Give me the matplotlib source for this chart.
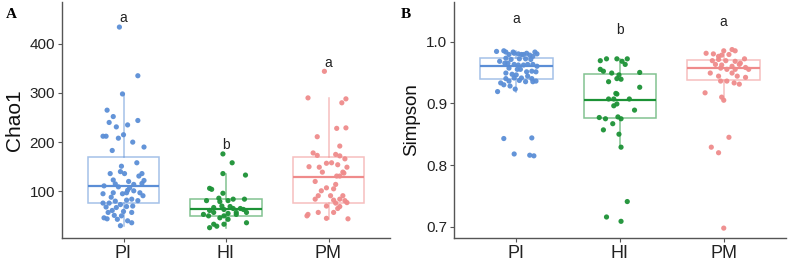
import matplotlib
matplotlib.use("Agg")
import matplotlib.pyplot as plt
import numpy as np

plt.rcParams['font.family'] = ['Liberation Sans', 'DejaVu Sans']

groups = ["PI", "HI", "PM"]
colors = ["#5b8ed6", "#1c9236", "#ef8b8b"]

# ---------- Panel A: Chao1 ----------
chao_pi = [434, 335, 298, 265, 252, 240, 244, 235, 231, 215, 212, 212, 208, 200, 190, 183,
           158, 151, 140, 136, 136, 131, 136, 122, 123, 115, 120, 109, 111, 114, 107, 116,
           102, 101, 95, 97, 95, 97, 97, 88, 91, 82, 84, 81, 76, 80, 68, 61, 73, 69, 70,
           57, 67, 59, 46, 44, 51, 50, 40, 36, 57, 30, 43, 76]
chao_pi_jit = [-0.04, 0.14, -0.01, -0.16, -0.10, -0.14, 0.14, 0.04, -0.07, 0.00, -0.17, -0.20,
               -0.05, 0.09, 0.20, -0.11, 0.13, -0.02, -0.03, -0.13, 0.01, 0.15, 0.18, 0.20,
               -0.10, -0.08, 0.05, -0.05, -0.19, 0.10, 0.06, 0.18, 0.04, 0.10, -0.20, -0.10,
               -0.01, 0.03, 0.16, -0.12, 0.19, 0.03, 0.08, 0.14, -0.20, -0.08, -0.17, -0.11,
               -0.03, 0.03, 0.09, -0.15, -0.07, 0.00, -0.19, -0.16, -0.09, -0.02, 0.04, 0.08,
               0.08, -0.03, -0.06, -0.14]
chao_hi = [176, 158, 136, 133, 106, 104, 96, 84, 84, 81, 86, 79, 81, 67, 70, 69, 61, 63, 65,
           65, 57, 63, 57, 55, 53, 50, 46, 50, 53, 36, 33, 29, 33, 26, 57, 43]
chao_hi_jit = [-0.03, 0.06, -0.03, 0.19, -0.16, -0.14, -0.03, 0.07, 0.18, -0.19, -0.07, -0.06,
               0.02, -0.12, -0.04, 0.04, -0.16, -0.02, 0.07, 0.14, 0.20, 0.17, -0.12, 0.02,
               -0.22, -0.17, -0.06, -0.02, 0.10, 0.20, -0.12, -0.09, -0.02, -0.16, 0.10, 0.02]
chao_pm = [344, 290, 288, 280, 228, 229, 211, 192, 178, 173, 175, 172, 166, 157, 158, 154, 150,
           149, 149, 139, 139, 131, 131, 137, 120, 114, 107, 105, 101, 91, 91, 84, 82, 84, 81,
           91, 76, 77, 70, 69, 65, 57, 57, 50, 53, 45, 44]
chao_pm_jit = [-0.04, -0.20, 0.17, 0.13, 0.08, 0.17, -0.11, 0.11, -0.15, -0.11, 0.07, 0.11, 0.16,
               -0.02, 0.03, 0.09, -0.19, -0.09, 0.18, 0.14, -0.06, 0.08, 0.11, 0.15, -0.13, 0.07,
               -0.02, 0.05, -0.07, 0.02, 0.14, -0.13, 0.05, 0.11, 0.16, -0.10, 0.07, 0.18, -0.02,
               0.11, 0.09, 0.05, -0.10, -0.21, -0.20, -0.02, 0.19]
# box statistics: lower whisker, Q1, median, Q3, upper whisker
chao_whislo = [30, 26, 44]
chao_q1 = [76, 49, 76]
chao_med = [110, 63, 129]
chao_q3 = [170, 84, 170]
chao_whishi = [298, 136, 290]
chao_letters = ["a", "b", "a"]
chao_letter_y = [452, 194, 360]

# ---------- Panel B: Simpson ----------
simp_pi = [0.984, 0.985, 0.983, 0.979, 0.983, 0.981, 0.980, 0.979, 0.979, 0.981, 0.978, 0.976,
           0.983, 0.980, 0.973, 0.971, 0.972, 0.972, 0.971, 0.968, 0.965, 0.965, 0.963, 0.962,
           0.962, 0.963, 0.963, 0.960, 0.957, 0.955, 0.955, 0.951, 0.952, 0.951, 0.949, 0.947,
           0.946, 0.941, 0.944, 0.940, 0.941, 0.940, 0.933, 0.936, 0.937, 0.935, 0.935, 0.936,
           0.930, 0.928, 0.923, 0.919, 0.843, 0.818, 0.844, 0.816, 0.815]
simp_pi_jit = [-0.19, -0.12, -0.10, -0.07, -0.03, -0.02, 0.02, 0.05, 0.07, 0.10, 0.13, 0.16,
               0.18, 0.20, -0.10, -0.05, 0.03, 0.09, 0.14, -0.16, -0.11, -0.08, -0.02, 0.02,
               0.07, 0.11, 0.16, 0.20, -0.07, 0.01, 0.04, 0.10, 0.15, 0.19, -0.10, -0.04, 0.00,
               0.05, 0.11, 0.15, -0.02, -0.10, -0.15, -0.07, 0.03, 0.09, 0.16, 0.19, -0.12,
               -0.06, -0.01, -0.18, -0.12, -0.02, 0.15, 0.13, 0.17]
simp_hi = [0.969, 0.972, 0.972, 0.968, 0.972, 0.963, 0.955, 0.952, 0.949, 0.950, 0.935, 0.940,
           0.939, 0.946, 0.926, 0.916, 0.915, 0.907, 0.907, 0.907, 0.896, 0.899, 0.889, 0.877,
           0.875, 0.878, 0.875, 0.857, 0.867, 0.850, 0.829, 0.741, 0.716, 0.709]
simp_hi_jit = [-0.19, -0.13, -0.03, 0.02, 0.07, 0.05, -0.19, -0.16, -0.08, 0.19, -0.11, -0.03,
               0.01, -0.01, 0.19, -0.04, -0.03, -0.11, -0.06, 0.09, -0.06, -0.03, 0.14, -0.20,
               -0.14, -0.02, 0.01, -0.16, -0.07, -0.01, 0.01, 0.07, -0.13, 0.01]
simp_pm = [0.981, 0.980, 0.985, 0.987, 0.985, 0.976, 0.978, 0.979, 0.972, 0.969, 0.971, 0.969,
           0.968, 0.965, 0.963, 0.962, 0.960, 0.963, 0.958, 0.955, 0.957, 0.955, 0.955, 0.949,
           0.949, 0.944, 0.944, 0.942, 0.936, 0.936, 0.933, 0.931, 0.917, 0.910, 0.905, 0.845,
           0.829, 0.820, 0.698]
simp_pm_jit = [-0.17, -0.10, 0.00, 0.08, 0.11, -0.05, -0.02, 0.05, 0.20, -0.11, -0.05, 0.02,
               0.11, 0.16, -0.08, -0.02, 0.08, 0.15, 0.21, 0.24, -0.03, 0.03, 0.11, -0.13,
               0.08, -0.05, 0.13, 0.21, -0.03, 0.03, 0.10, 0.15, -0.18, -0.02, 0.00, 0.05,
               -0.12, -0.05, 0.00]
simp_whislo = [0.919, 0.829, 0.905]
simp_q1 = [0.940, 0.876, 0.937]
simp_med = [0.961, 0.906, 0.957]
simp_q3 = [0.974, 0.948, 0.970]
simp_whishi = [0.985, 0.972, 0.987]
simp_letters = ["a", "b", "a"]
simp_letter_y = [1.036, 1.019, 1.032]

W, H = 796, 265
fig = plt.figure(figsize=(W / 100, H / 100), dpi=100)

def px_axes(l, r, t, b):
    return fig.add_axes([l / W, 1 - b / H, (r - l) / W, (b - t) / H])

axA = px_axes(62, 390, 2, 238)
axB = px_axes(454, 786, 2, 238)

def draw(ax, vals, jits, whislo, q1, med, q3, whishi, letters, letter_y, ylabel, ylabsize, ylim, yticks, yticklabels):
    for i in range(3):
        c = colors[i]
        stats = [dict(whislo=whislo[i], q1=q1[i], med=med[i], q3=q3[i], whishi=whishi[i], fliers=[])]
        ax.bxp(stats, positions=[i + 1], widths=0.7, showcaps=False, showfliers=False,
               patch_artist=True,
               boxprops=dict(facecolor="white", edgecolor=c, alpha=0.55, linewidth=1.1),
               whiskerprops=dict(color=c, alpha=0.55, linewidth=1.1),
               medianprops=dict(color=c, linewidth=1.6),
               zorder=1)
        x = np.array(jits[i]) + (i + 1)
        ax.scatter(x, vals[i], s=14, color=c, edgecolors="none", alpha=0.95, zorder=3)
        ax.text(i + 1, letter_y[i], letters[i], ha="center", va="center", fontsize=10,
                color="#222222")
    ax.set_xlim(0.4, 3.6)
    ax.set_ylim(*ylim)
    ax.set_xticks([1, 2, 3])
    ax.set_xticklabels(groups, fontsize=13, color="#222222")
    ax.set_yticks(yticks)
    ax.set_yticklabels(yticklabels, fontsize=11, color="#222222")
    ax.set_ylabel(ylabel, fontsize=ylabsize, color="#111111", labelpad=4)
    for s in ["top", "right"]:
        ax.spines[s].set_visible(False)
    for s in ["left", "bottom"]:
        ax.spines[s].set_color("#555555")
        ax.spines[s].set_linewidth(1.0)
    ax.tick_params(axis="both", length=3, width=0.8, color="#555555", pad=2)

draw(axA, [chao_pi, chao_hi, chao_pm], [chao_pi_jit, chao_hi_jit, chao_pm_jit],
     chao_whislo, chao_q1, chao_med, chao_q3, chao_whishi, chao_letters, chao_letter_y,
     "Chao1", 15, (5, 485), [100, 200, 300, 400], ["100", "200", "300", "400"])
draw(axB, [simp_pi, simp_hi, simp_pm], [simp_pi_jit, simp_hi_jit, simp_pm_jit],
     simp_whislo, simp_q1, simp_med, simp_q3, simp_whishi, simp_letters, simp_letter_y,
     "Simpson", 13.5, (0.682, 1.064), [0.7, 0.8, 0.9, 1.0], ["0.7", "0.8", "0.9", "1.0"])

fig.text(6 / W, 1 - 14 / H, "A", fontsize=11, fontweight="bold", family="Liberation Serif",
         va="center", ha="left")
fig.text(401 / W, 1 - 14 / H, "B", fontsize=11, fontweight="bold", family="Liberation Serif",
         va="center", ha="left")

fig.savefig("out.png", dpi=100)
